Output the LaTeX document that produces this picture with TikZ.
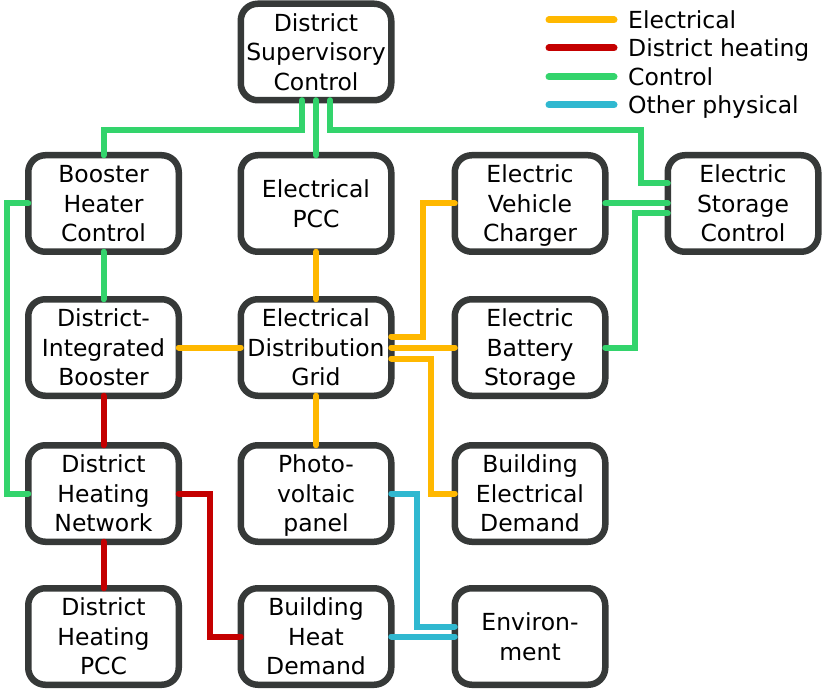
\documentclass[tikz,border=0pt]{standalone}
\usepackage{fontspec}
\setmainfont{DejaVu Sans}
\usetikzlibrary{calc}
\definecolor{elec}{HTML}{FFB800}
\definecolor{heat}{HTML}{C40000}
\definecolor{ctrl}{HTML}{33D46C}
\definecolor{phys}{HTML}{30B8D0}
\definecolor{frame}{HTML}{363938}
\newcommand\bs{\rule[-5.95pt]{0pt}{29.5pt}}
\tikzset{
  box/.style={draw=frame, line width=6.5pt, rounded corners=17pt, fill=white,
    minimum width=150.5pt, minimum height=96.5pt, inner sep=0pt, outer sep=0pt,
    align=center, font=\fontsize{23.5}{29.5}\selectfont},
  conn/.style={line width=6pt, line cap=round},
  elecl/.style={conn, draw=elec},
  heatl/.style={conn, draw=heat},
  ctrll/.style={conn, draw=ctrl},
  physl/.style={conn, draw=phys},
  legtext/.style={anchor=base west, inner sep=0pt, font=\fontsize{23.5}{29.5}\selectfont}
}
\begin{document}
\begin{tikzpicture}[x=1pt,y=-1pt]
\useasboundingbox (0,0) rectangle (823,690);
% boxes
\node[box] (sup) at (316,52) {\bs District\\Supervisory\\Control\bs};
\node[box] (bhc) at (103.5,203.5) {\bs Booster\\Heater\\Control\bs};
\node[box] (pcc) at (316,203.5) {\bs Electrical\\PCC\bs};
\node[box] (evc) at (530,203.5) {\bs Electric\\Vehicle\\Charger\bs};
\node[box] (esc) at (743,203.5) {\bs Electric\\Storage\\Control\bs};
\node[box] (dib) at (103.5,347.5) {\bs District-\\Integrated\\Booster\bs};
\node[box] (edg) at (316,347.5) {\bs Electrical\\Distribution\\Grid\bs};
\node[box] (ebs) at (530,347.5) {\bs Electric\\Battery\\Storage\bs};
\node[box] (dhn) at (103.5,493.5) {\bs District\\Heating\\Network\bs};
\node[box] (pv) at (316,493.5) {\bs Photo-\\voltaic\\panel\bs};
\node[box] (bed) at (530,493.5) {\bs Building\\Electrical\\Demand\bs};
\node[box] (dhp) at (103.5,636.5) {\bs District\\Heating\\PCC\bs};
\node[box] (bhd) at (316,636.5) {\bs Building\\Heat\\Demand\bs};
\node[box] (env) at (530,636.5) {\bs Environ-\\ment\bs};
% control
\draw[ctrll] ($(sup.south)+(-14,0)$) -- ++(0,30) -| (bhc.north);
\draw[ctrll] (sup.south) -- (pcc.north);
\draw[ctrll] ($(sup.south)+(14,0)$) -- ++(0,30) -| ($(esc.west)+(-27,-20)$) -- ($(esc.west)+(0,-20)$);
\draw[ctrll] (bhc.west) -- ++(-21,0) |- (dhn.west);
\draw[ctrll] (bhc.south) -- (dib.north);
\draw[ctrll] (evc.east) -- (esc.west);
\draw[ctrll] (ebs.east) -- ++(30,0) |- ($(esc.west)+(0,10)$);
% electrical
\draw[elecl] (dib.east) -- (edg.west);
\draw[elecl] (pcc.south) -- (edg.north);
\draw[elecl] (edg.south) -- (pv.north);
\draw[elecl] ($(edg.east)+(0,-11)$) -- ++(32,0) |- (evc.west);
\draw[elecl] (edg.east) -- (ebs.west);
\draw[elecl] ($(edg.east)+(0,11)$) -- ++(40,0) |- (bed.west);
% other physical
\draw[physl] (pv.east) -- ++(26,0) |- ($(env.west)+(0,-10)$);
\draw[physl] (bhd.east) -- (env.west);
% district heating
\draw[heatl] (dib.south) -- (dhn.north);
\draw[heatl] (dhn.south) -- (dhp.north);
\draw[heatl] (dhn.east) -- ++(31,0) |- (bhd.west);
% legend
\coordinate (l1) at (549,20);
\coordinate (l2) at (549,48);
\coordinate (l3) at (549,77);
\coordinate (l4) at (549,105);
\draw[elecl, line width=7pt] (l1) -- ++(65,0);
\draw[heatl, line width=7pt] (l2) -- ++(65,0);
\draw[ctrll, line width=7pt] (l3) -- ++(65,0);
\draw[physl, line width=7pt] (l4) -- ++(65,0);
\node[legtext] (t1) at ($(l1)+(79,8.8)$) {Electrical};
\node[legtext] (t2) at ($(l2)+(79,8.8)$) {District heating};
\node[legtext] (t3) at ($(l3)+(79,8.8)$) {Control};
\node[legtext] (t4) at ($(l4)+(79,8.8)$) {Other physical};
\end{tikzpicture}
\end{document}
